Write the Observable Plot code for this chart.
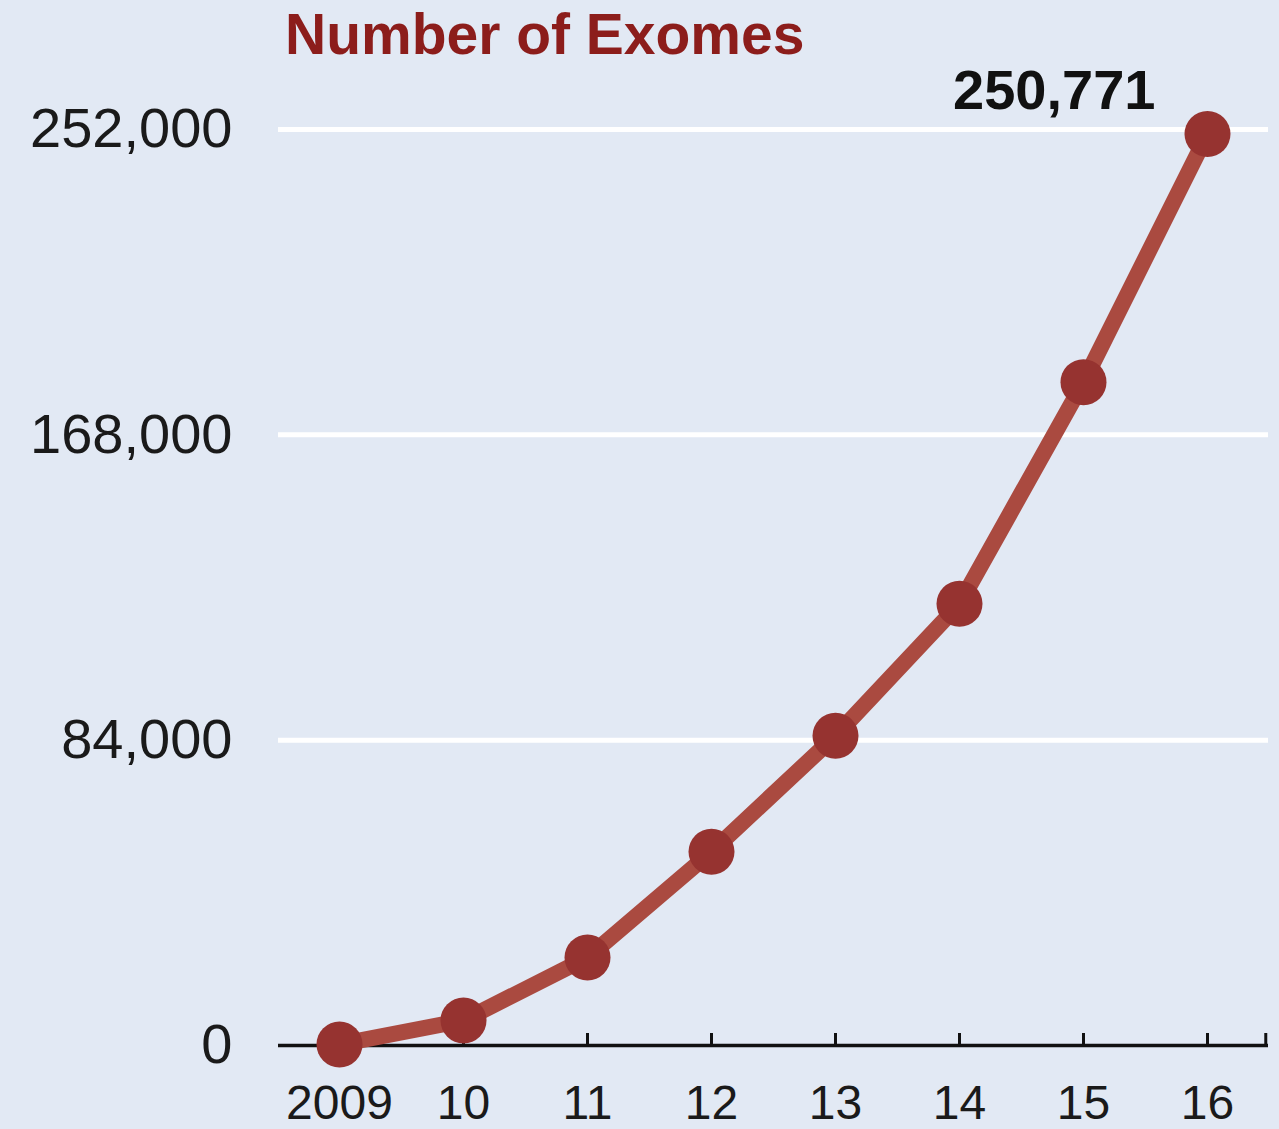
<!DOCTYPE html>
<html>
<head>
<meta charset="utf-8">
<script src="https://cdn.jsdelivr.net/npm/d3@7"></script>
<script src="https://cdn.jsdelivr.net/npm/@observablehq/plot@0.6"></script>
<style>
  html, body { margin: 0; padding: 0; background: #e2e9f4; }
  #wrap { position: relative; width: 1279px; height: 1129px; overflow: hidden; }
  #title { position: absolute; left: 285px; top: 6px; font: bold 57px "Liberation Sans", Arial, sans-serif; line-height: 56px; color: #8c1d1b; white-space: nowrap; }
</style>
</head>
<body>
<div id="wrap">
  <div id="title">Number of Exomes</div>
  <div id="chart"></div>
</div>
<script>
const years = [2009, 2010, 2011, 2012, 2013, 2014, 2015, 2016];
const exomes = [300, 6900, 24200, 53300, 85200, 121500, 182500, 250771];
const yTicks = [0, 84000, 168000, 252000];
const xTickLabels = ["2009", "10", "11", "12", "13", "14", "15", "16"];

const data = years.map((year, i) => ({year, value: exomes[i]}));
const xDomain = [2008.508, 2016.492];
const tickPositions = [...years, 2016.47];

const plot = Plot.plot({
  width: 1279,
  height: 1129,
  marginLeft: 278,
  marginRight: 11,
  marginTop: 129,
  marginBottom: 84,
  style: {background: "transparent", fontFamily: "'Liberation Sans', Arial, sans-serif", overflow: "visible"},
  x: {domain: xDomain},
  y: {domain: [0, 252000]},
  marks: [
    Plot.ruleY(yTicks.filter(d => d > 0), {stroke: "#ffffff", strokeWidth: 5}),
    Plot.ruleY([0], {stroke: "#111111", strokeWidth: 3.5}),
    Plot.ruleX(tickPositions, {y1: 0, y2: 0, insetTop: -12, stroke: "#111111", strokeWidth: 3}),
    Plot.axisY(yTicks, {tickSize: 0, tickPadding: 46, fontSize: 56, fill: "#1a1a1a", tickFormat: d3.format(","), label: null}),
    Plot.axisX(years, {tickSize: 0, tickPadding: 39, fontSize: 48, fill: "#1a1a1a", tickFormat: (d) => xTickLabels[years.indexOf(d)], label: null}),
    Plot.line(data, {x: "year", y: "value", stroke: "#aa4a40", strokeWidth: 16, strokeLinejoin: "round", strokeLinecap: "round"}),
    Plot.dot(data, {x: "year", y: "value", r: 23, fill: "#963330", stroke: "none"}),
    Plot.text(data.slice(-1), {x: "year", y: "value", text: d => d3.format(",")(d.value), textAnchor: "end", dx: -52, dy: -43, fontSize: 56, fontWeight: "bold", fill: "#111111"})
  ]
});
document.getElementById("chart").appendChild(plot);
</script>
</body>
</html>
